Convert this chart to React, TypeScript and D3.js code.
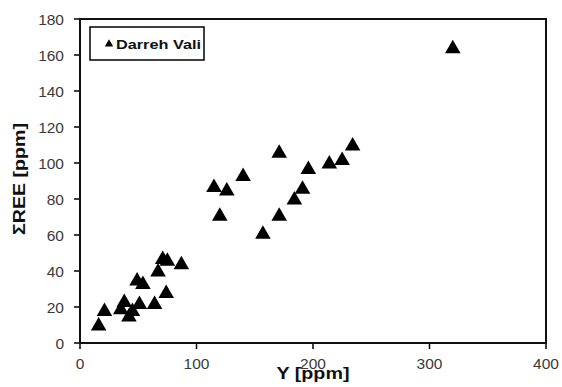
import React from "react";
import * as d3 from "d3";

const xValues = [16, 21, 35, 38, 42, 45, 51, 49, 54, 64, 67, 71, 75, 74, 87, 115, 120, 126, 140, 157, 171, 171, 184, 191, 196, 214, 225, 234, 320];
const yValues = [10, 18, 19, 23, 15, 18, 22, 35, 33, 22, 40, 47, 46, 28, 44, 87, 71, 85, 93, 61, 106, 71, 80, 86, 97, 100, 102, 110, 164];
const xTicks = [0, 100, 200, 300, 400];
const yTicks = [0, 20, 40, 60, 80, 100, 120, 140, 160, 180];
const seriesName = "Darreh Vali";

export default function App() {
  const W = 562, H = 387;
  const left = 80, right = 546, top = 19, bottom = 343;
  const x = d3.scaleLinear().domain([0, 400]).range([left, right]);
  const y = d3.scaleLinear().domain([0, 180]).range([bottom, top]);
  const tri = d3.symbol().type(d3.symbolTriangle).size(105)();
  const triSmall = d3.symbol().type(d3.symbolTriangle).size(30)();
  const font = "Arial, 'Liberation Sans', sans-serif";
  return (
    <svg width={W} height={H} style={{ position: "absolute", left: 0, top: 0, background: "#fff" }}>
      <rect x={0} y={0} width={W} height={H} fill="#fff" />
      {yTicks.map((t) => (
        <g key={"y" + t}>
          <line x1={left - 6} x2={left} y1={y(t)} y2={y(t)} stroke="#000" strokeWidth={1.5} />
          <text x={64} y={y(t)} dy="0.36em" textAnchor="end" fontFamily={font} fontSize={15.5} fill="#3a3a3a">{t}</text>
        </g>
      ))}
      {xTicks.map((t) => (
        <g key={"x" + t}>
          <line x1={x(t)} x2={x(t)} y1={bottom} y2={bottom + 6} stroke="#000" strokeWidth={1.5} />
          <text x={x(t)} y={363} dy="0.36em" textAnchor="middle" fontFamily={font} fontSize={15.5} fill="#3a3a3a">{t}</text>
        </g>
      ))}
      <rect x={left} y={top} width={right - left} height={bottom - top} fill="none" stroke="#111" strokeWidth={2} />
      {xValues.map((v, i) => (
        <path key={i} d={tri} transform={`translate(${x(v)},${y(yValues[i]) + 1})`} fill="#000" />
      ))}
      <rect x={90} y={27} width={114} height={33} fill="#fff" stroke="#000" strokeWidth={1.5} />
      <path d={triSmall} transform="translate(109,44)" fill="#000" />
      <text x={116} y={44} dy="0.36em" fontFamily={font} fontSize={13.5} fontWeight="bold" fill="#111" textLength={85} lengthAdjust="spacingAndGlyphs">{seriesName}</text>
      <text transform="translate(25,179) rotate(-90)" textAnchor="middle" fontFamily={font} fontSize={17} fontWeight="bold" fill="#111" textLength={112} lengthAdjust="spacingAndGlyphs">ΣREE [ppm]</text>
      <text x={313} y={378.5} textAnchor="middle" fontFamily={font} fontSize={17} fontWeight="bold" fill="#111" textLength={73} lengthAdjust="spacingAndGlyphs">Y [ppm]</text>
    </svg>
  );
}
